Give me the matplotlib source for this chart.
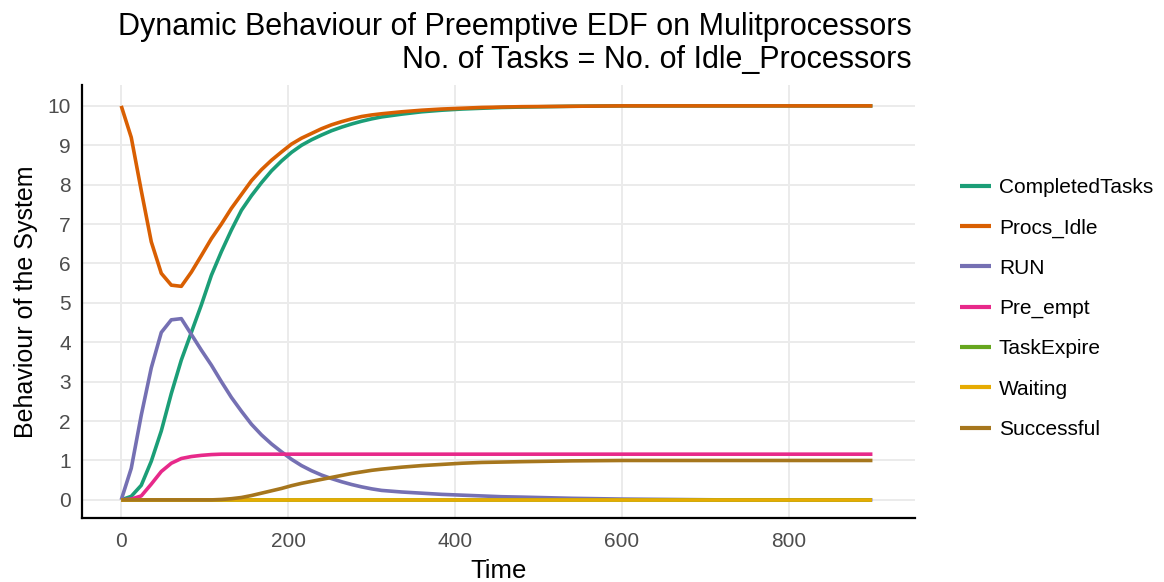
import matplotlib
matplotlib.use("Agg")
import matplotlib.pyplot as plt

plt.rcParams['font.family'] = ['Liberation Sans', 'DejaVu Sans']

time = [0, 12, 24, 36, 48, 60, 72, 84, 96, 108, 120, 132, 144, 156, 168, 180, 192,
        204, 216, 228, 240, 252, 264, 276, 288, 300, 312, 336, 360, 384, 408, 432,
        456, 480, 540, 600, 660, 720, 780, 840, 900]

completed = [0, 0.09, 0.37, 0.98, 1.75, 2.7, 3.55, 4.25, 4.95, 5.7, 6.3, 6.85, 7.35,
             7.72, 8.05, 8.35, 8.6, 8.82, 9.0, 9.14, 9.26, 9.37, 9.46, 9.54, 9.61,
             9.67, 9.72, 9.79, 9.85, 9.89, 9.92, 9.94, 9.96, 9.97, 9.99, 10, 10, 10,
             10, 10, 10]

procs_idle = [10, 9.2, 7.85, 6.55, 5.75, 5.45, 5.42, 5.78, 6.2, 6.63, 7.0, 7.4, 7.75,
              8.1, 8.38, 8.62, 8.83, 9.03, 9.18, 9.3, 9.42, 9.52, 9.6, 9.67, 9.73,
              9.77, 9.8, 9.85, 9.89, 9.92, 9.94, 9.96, 9.97, 9.98, 9.99, 10, 10, 10,
              10, 10, 10]

run = [0, 0.8, 2.15, 3.35, 4.25, 4.57, 4.6, 4.2, 3.8, 3.42, 3.0, 2.6, 2.25, 1.92,
       1.65, 1.42, 1.22, 1.03, 0.87, 0.74, 0.63, 0.54, 0.46, 0.39, 0.33, 0.28, 0.24,
       0.2, 0.17, 0.14, 0.12, 0.1, 0.08, 0.07, 0.04, 0.02, 0.01, 0, 0, 0, 0]

pre_empt = [0, 0.02, 0.1, 0.4, 0.72, 0.93, 1.05, 1.1, 1.13, 1.15, 1.16, 1.16, 1.16,
            1.16, 1.16, 1.16, 1.16, 1.16, 1.16, 1.16, 1.16, 1.16, 1.16, 1.16, 1.16,
            1.16, 1.16, 1.16, 1.16, 1.16, 1.16, 1.16, 1.16, 1.16, 1.16, 1.16, 1.16,
            1.16, 1.16, 1.16, 1.16]

task_expire = [0] * len(time)
waiting = [0] * len(time)

successful = [0, 0, 0, 0, 0, 0, 0, 0, 0, 0, 0.01, 0.03, 0.06, 0.11, 0.17, 0.23, 0.29,
              0.36, 0.42, 0.47, 0.52, 0.57, 0.62, 0.67, 0.71, 0.75, 0.78, 0.83, 0.87,
              0.9, 0.93, 0.95, 0.96, 0.97, 0.99, 1.0, 1.0, 1.0, 1.0, 1.0, 1.0]

series_names = ["CompletedTasks", "Procs_Idle", "RUN", "Pre_empt", "TaskExpire",
                "Waiting", "Successful"]
series_values = [completed, procs_idle, run, pre_empt, task_expire, waiting, successful]
colors = ["#1B9E77", "#D95F02", "#7570B3", "#E7298A", "#66A61E", "#E6AB02", "#A6761D"]

x_ticks = [0, 200, 400, 600, 800]
y_ticks = list(range(0, 11))

fig = plt.figure(figsize=(11.64, 5.82), dpi=100)
ax = fig.add_axes([82 / 1164, 1 - 518 / 582, (915 - 82) / 1164, (518 - 85) / 582])

for name, vals, c in zip(series_names, series_values, colors):
    ax.plot(time, vals, color=c, lw=2.6, label=name, solid_capstyle='butt')

ax.set_xlim(-47, 951)
ax.set_ylim(-0.46, 10.53)
ax.set_xticks(x_ticks)
ax.set_yticks(y_ticks)
ax.grid(True, color="#EBEBEB", lw=1.4)
ax.set_axisbelow(True)
for s in ["top", "right"]:
    ax.spines[s].set_visible(False)
for s in ["left", "bottom"]:
    ax.spines[s].set_color("black")
    ax.spines[s].set_linewidth(1.6)
ax.tick_params(length=0, labelsize=15, labelcolor="#4D4D4D")
ax.tick_params(axis='y', pad=8)
ax.tick_params(axis='x', pad=10)
ax.set_xlabel("Time", fontsize=18.5, labelpad=6)
ax.set_ylabel("Behaviour of the System", fontsize=18, labelpad=7)

fig.text(912 / 1164, 1 - 12 / 582,
         "Dynamic Behaviour of Preemptive EDF on Mulitprocessors\nNo. of Tasks = No. of Idle_Processors",
         ha='right', va='top', fontsize=22, linespacing=1.13)

leg = fig.legend(loc='center left', bbox_to_anchor=(950 / 1164, 1 - 308.5 / 582),
                 frameon=False, fontsize=15, handlelength=1.45, handletextpad=0.4,
                 labelspacing=1.02, borderpad=0)
for h in leg.get_lines():
    h.set_linewidth(3)

fig.savefig("out.png", dpi=100)
